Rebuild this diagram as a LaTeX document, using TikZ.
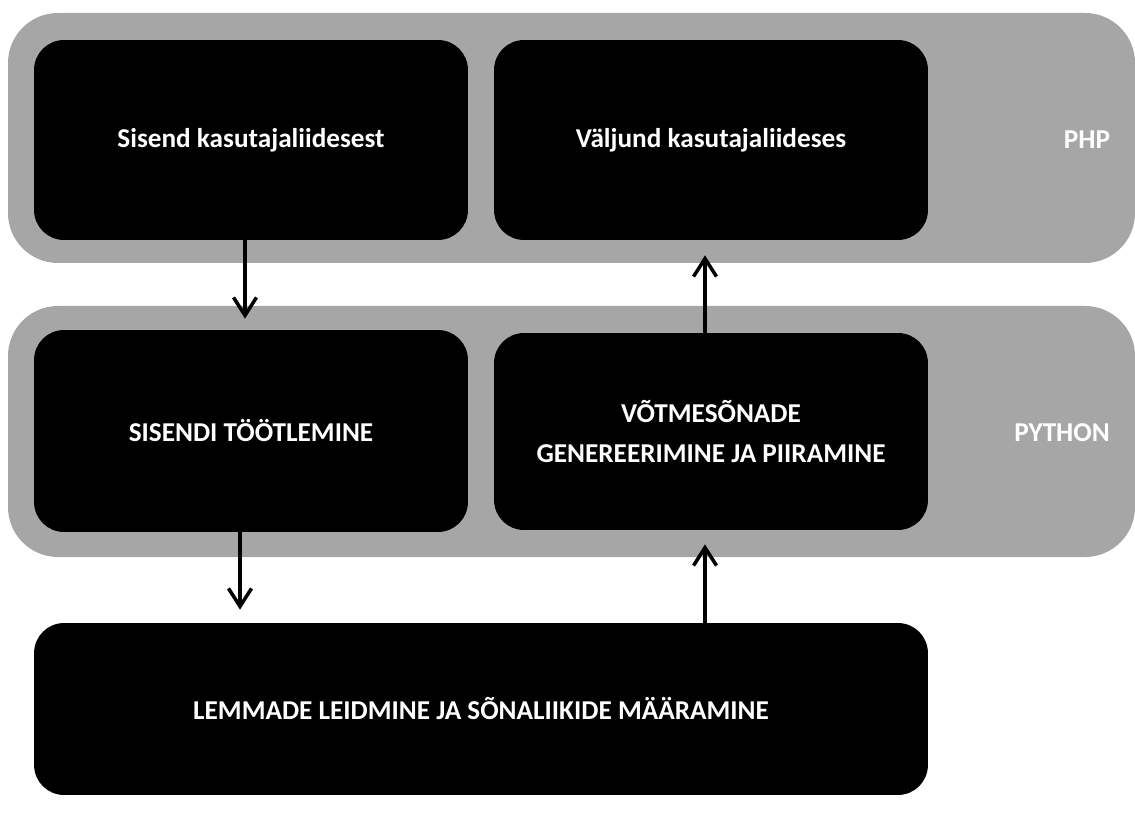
\documentclass[tikz,border=0pt]{standalone}
\usepackage{fontspec}
\setmainfont{Carlito}
\usetikzlibrary{arrows.meta}

\tikzset{
  band/.style={fill=black!35, rounded corners=1cm},
  blk/.style={rectangle, fill=black, rounded corners=0.6cm, text=white,
    font=\fontsize{15.5}{23}\selectfont\bfseries, align=center,
    minimum width=8.68cm, minimum height=4cm},
  lang/.style={text=white, font=\fontsize{15.5}{19}\selectfont\bfseries},
  arr/.style={line width=0.07cm, -{Straight Barb[length=0.36cm,width=0.46cm]}}
}

\begin{document}
\begin{tikzpicture}[x=0.02cm, y=-0.02cm]
\useasboundingbox (0,0) rectangle (1135,820);
% the two layers
\fill[band] (8,13) rectangle (1135,263);
\fill[band] (8,306) rectangle (1135,557);
\node[lang] (php) at (1087,140) {PHP};
\node[lang] (python) at (1062,433) {PYTHON};
% blocks
\node[blk] (input) at (251,140) {Sisend kasutajaliidesest};
\node[blk] (output) at (711,140) {Väljund kasutajaliideses};
\node[blk, minimum height=4.04cm] (process) at (251,431) {SISENDI TÖÖTLEMINE};
\node[blk, minimum height=3.94cm] (keywords) at (711,431.5) {VÕTMESÕNADE\\GENEREERIMINE JA PIIRAMINE};
\node[blk, minimum width=17.88cm, minimum height=3.44cm] (lemmas) at (481,709) {LEMMADE LEIDMINE JA SÕNALIIKIDE MÄÄRAMINE};
% flow
\draw[arr, shorten >=0.22cm] ([xshift=-0.12cm]input.south) -- ([xshift=-0.12cm]process.north);
\draw[arr, shorten >=0.26cm] ([xshift=-0.22cm]process.south) -- ([xshift=-0.22cm]lemmas.north -| process.south);
\draw[arr, shorten >=0.28cm] ([xshift=-0.12cm]lemmas.north -| keywords.south) -- ([xshift=-0.12cm]keywords.south);
\draw[arr, shorten >=0.3cm] ([xshift=-0.12cm]keywords.north) -- ([xshift=-0.12cm]output.south);
\end{tikzpicture}
\end{document}
